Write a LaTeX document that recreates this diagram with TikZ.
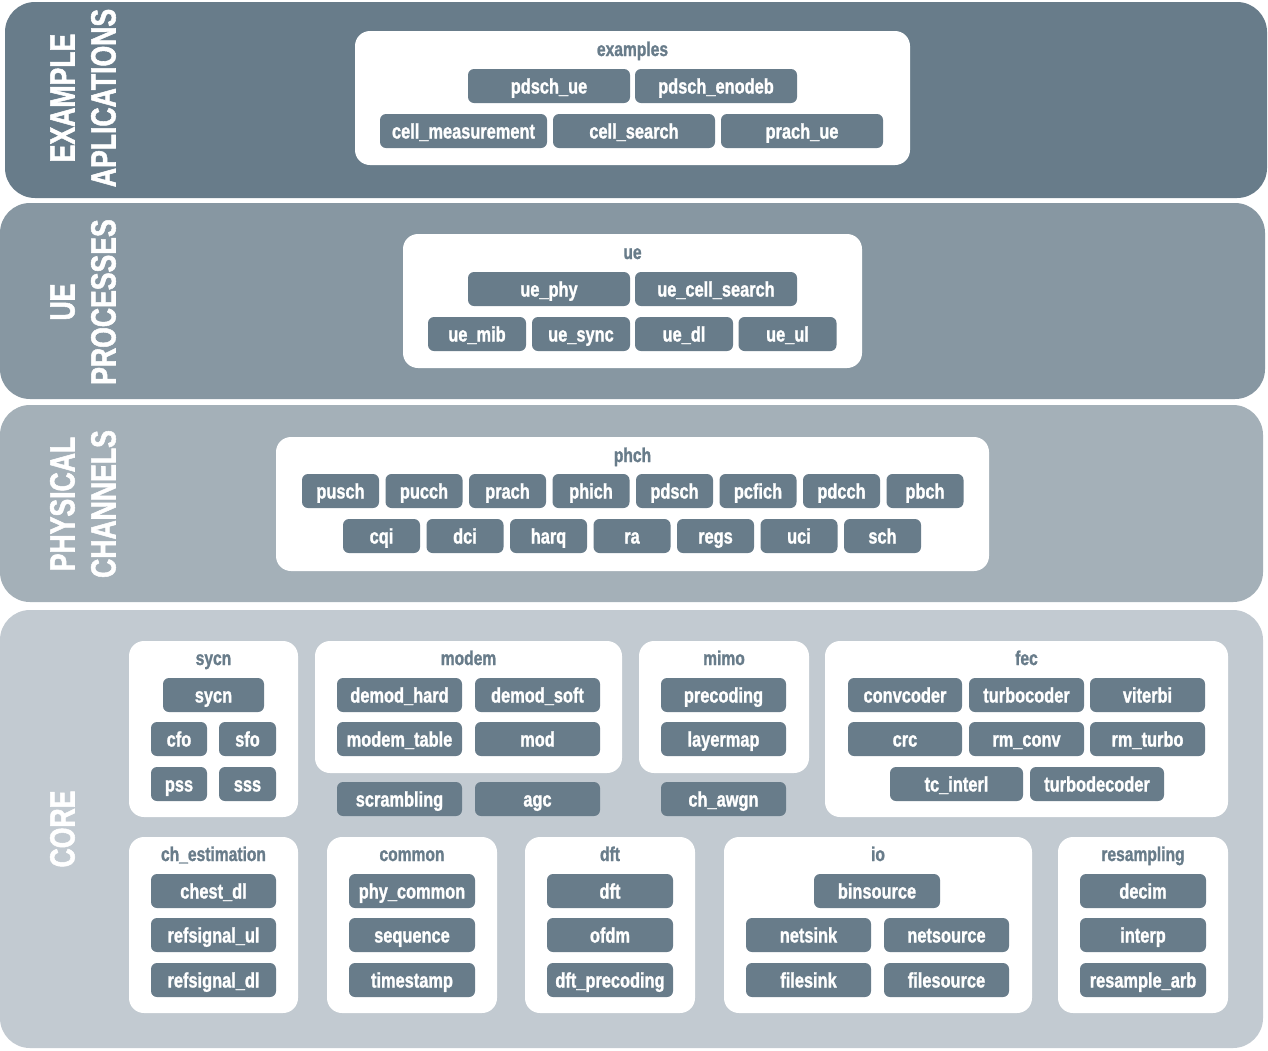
\documentclass[tikz,border=0pt]{standalone}
\usepackage{fontspec}
\usepackage{tikz}
\newfontfamily\modfont[FakeStretch=0.78,FakeBold=1.2]{Liberation Sans Bold}
\newfontfamily\layfont[FakeStretch=0.76,FakeBold=1.5]{Liberation Sans Bold}
\definecolor{layA}{HTML}{687C8A}
\definecolor{layB}{HTML}{8797A2}
\definecolor{layC}{HTML}{A4B0B8}
\definecolor{layD}{HTML}{C2CAD1}
\definecolor{modc}{HTML}{687C8A}
\tikzset{
  mod/.style={fill=modc, text=white, rounded corners=6pt, minimum height=34, inner sep=0pt,
    text height=15pt, text depth=0pt, font=\modfont\fontsize{21}{21}\selectfont},
  grp/.style={fill=white, rounded corners=15pt},
  grptitle/.style={text=modc, inner sep=0pt, text height=14pt, text depth=0pt,
    font=\modfont\fontsize{20}{20}\selectfont},
  laytitle/.style={text=white, rotate=90, inner sep=0pt, text height=25pt, text depth=0pt,
    font=\layfont\fontsize{35}{35}\selectfont}
}
\begin{document}
\begin{tikzpicture}[x=1pt,y=-1pt]
\useasboundingbox [fill=white] (0,0) rectangle (1268,1050);

% layers
\fill [layA, rounded corners=30pt] (5,2) rectangle (1267,198);
\fill [layB, rounded corners=30pt] (0,203) rectangle (1265,399);
\fill [layC, rounded corners=30pt] (0,405) rectangle (1263,602);
\fill [layD, rounded corners=30pt] (0,610) rectangle (1263,1048);

\node [laytitle] (exA) at (62,98) {EXAMPLE};
\node [laytitle] (exB) at (103,98) {APLICATIONS};
\node [laytitle] (ueA) at (62,302) {UE};
\node [laytitle] (ueB) at (103,302) {PROCESSES};
\node [laytitle] (phA) at (62,504) {PHYSICAL};
\node [laytitle] (phB) at (103,504) {CHANNELS};
\node [laytitle] (coA) at (62,829) {CORE};

% example aplications
\fill [grp] (355,31) rectangle (910,165);
\node [grptitle] (g_examples) at (632.5,49) {examples};
\node [mod, minimum width=162] (pdsch_ue) at (549,86) {pdsch\_ue};
\node [mod, minimum width=162] (pdsch_enodeb) at (716,86) {pdsch\_enodeb};
\node [mod, minimum width=167] (cell_measurement) at (463.5,131) {cell\_measurement};
\node [mod, minimum width=162] (cell_search) at (634,131) {cell\_search};
\node [mod, minimum width=162] (prach_ue) at (802,131) {prach\_ue};

% ue processes
\fill [grp] (403,234) rectangle (862,368);
\node [grptitle] (g_ue) at (632.5,252) {ue};
\node [mod, minimum width=162] (ue_phy) at (549,289) {ue\_phy};
\node [mod, minimum width=162] (ue_cell_search) at (716,289) {ue\_cell\_search};
\node [mod, minimum width=98] (ue_mib) at (477,334) {ue\_mib};
\node [mod, minimum width=98] (ue_sync) at (581,334) {ue\_sync};
\node [mod, minimum width=98] (ue_dl) at (684,334) {ue\_dl};
\node [mod, minimum width=98] (ue_ul) at (787.5,334) {ue\_ul};

% physical channels
\fill [grp] (276,437) rectangle (989,571);
\node [grptitle] (g_phch) at (632.5,455) {phch};
\node [mod, minimum width=77] (pusch) at (340.5,491) {pusch};
\node [mod, minimum width=77] (pucch) at (424,491) {pucch};
\node [mod, minimum width=77] (prach) at (507.5,491) {prach};
\node [mod, minimum width=77] (phich) at (591,491) {phich};
\node [mod, minimum width=77] (pdsch) at (674.5,491) {pdsch};
\node [mod, minimum width=77] (pcfich) at (758,491) {pcfich};
\node [mod, minimum width=77] (pdcch) at (841.5,491) {pdcch};
\node [mod, minimum width=77] (pbch) at (925,491) {pbch};
\node [mod, minimum width=77] (cqi) at (381.5,536) {cqi};
\node [mod, minimum width=77] (dci) at (465,536) {dci};
\node [mod, minimum width=77] (harq) at (548.5,536) {harq};
\node [mod, minimum width=77] (ra) at (632,536) {ra};
\node [mod, minimum width=77] (regs) at (715.5,536) {regs};
\node [mod, minimum width=77] (uci) at (799,536) {uci};
\node [mod, minimum width=77] (sch) at (882.5,536) {sch};

% core, first row
\fill [grp] (129,641) rectangle (298,817);
\node [grptitle] (g_sycn) at (213.5,658) {sycn};
\node [mod, minimum width=101] (sycn) at (213.5,695) {sycn};
\node [mod, minimum width=56] (cfo) at (179,739) {cfo};
\node [mod, minimum width=57] (sfo) at (247.5,739) {sfo};
\node [mod, minimum width=56] (pss) at (179,784) {pss};
\node [mod, minimum width=57] (sss) at (247.5,784) {sss};

\fill [grp] (315,641) rectangle (622,773);
\node [grptitle] (g_modem) at (468.5,658) {modem};
\node [mod, minimum width=125] (demod_hard) at (399.5,695) {demod\_hard};
\node [mod, minimum width=125] (demod_soft) at (537.5,695) {demod\_soft};
\node [mod, minimum width=125] (modem_table) at (399.5,739) {modem\_table};
\node [mod, minimum width=125] (mod) at (537.5,739) {mod};
\node [mod, minimum width=125] (scrambling) at (399.5,799) {scrambling};
\node [mod, minimum width=125] (agc) at (537.5,799) {agc};

\fill [grp] (639,641) rectangle (809,773);
\node [grptitle] (g_mimo) at (724,658) {mimo};
\node [mod, minimum width=125] (precoding) at (723.5,695) {precoding};
\node [mod, minimum width=125] (layermap) at (723.5,739) {layermap};
\node [mod, minimum width=125] (ch_awgn) at (723.5,799) {ch\_awgn};

\fill [grp] (825,641) rectangle (1228,817);
\node [grptitle] (g_fec) at (1026.5,658) {fec};
\node [mod, minimum width=114] (convcoder) at (905,695) {convcoder};
\node [mod, minimum width=115] (turbocoder) at (1026.5,695) {turbocoder};
\node [mod, minimum width=115] (viterbi) at (1147.5,695) {viterbi};
\node [mod, minimum width=114] (crc) at (905,739) {crc};
\node [mod, minimum width=115] (rm_conv) at (1026.5,739) {rm\_conv};
\node [mod, minimum width=115] (rm_turbo) at (1147.5,739) {rm\_turbo};
\node [mod, minimum width=133] (tc_interl) at (956.5,784) {tc\_interl};
\node [mod, minimum width=134] (turbodecoder) at (1097,784) {turbodecoder};

% core, second row
\fill [grp] (129,837) rectangle (298,1013);
\node [grptitle] (g_chest) at (213.5,854) {ch\_estimation};
\node [mod, minimum width=125] (chest_dl) at (213.5,891) {chest\_dl};
\node [mod, minimum width=125] (refsignal_ul) at (213.5,935) {refsignal\_ul};
\node [mod, minimum width=125] (refsignal_dl) at (213.5,980) {refsignal\_dl};

\fill [grp] (327,837) rectangle (497,1013);
\node [grptitle] (g_common) at (412,854) {common};
\node [mod, minimum width=126] (phy_common) at (412,891) {phy\_common};
\node [mod, minimum width=126] (sequence) at (412,935) {sequence};
\node [mod, minimum width=126] (timestamp) at (412,980) {timestamp};

\fill [grp] (525,837) rectangle (695,1013);
\node [grptitle] (g_dft) at (610,854) {dft};
\node [mod, minimum width=126] (dft) at (610,891) {dft};
\node [mod, minimum width=126] (ofdm) at (610,935) {ofdm};
\node [mod, minimum width=126] (dft_precoding) at (610,980) {dft\_precoding};

\fill [grp] (724,837) rectangle (1032,1013);
\node [grptitle] (g_io) at (878,854) {io};
\node [mod, minimum width=126] (binsource) at (877,891) {binsource};
\node [mod, minimum width=125] (netsink) at (808.5,935) {netsink};
\node [mod, minimum width=125] (netsource) at (946.5,935) {netsource};
\node [mod, minimum width=125] (filesink) at (808.5,980) {filesink};
\node [mod, minimum width=125] (filesource) at (946.5,980) {filesource};

\fill [grp] (1058,837) rectangle (1228,1013);
\node [grptitle] (g_resampling) at (1143,854) {resampling};
\node [mod, minimum width=126] (decim) at (1143,891) {decim};
\node [mod, minimum width=126] (interp) at (1143,935) {interp};
\node [mod, minimum width=126] (resample_arb) at (1143,980) {resample\_arb};
\end{tikzpicture}
\end{document}
